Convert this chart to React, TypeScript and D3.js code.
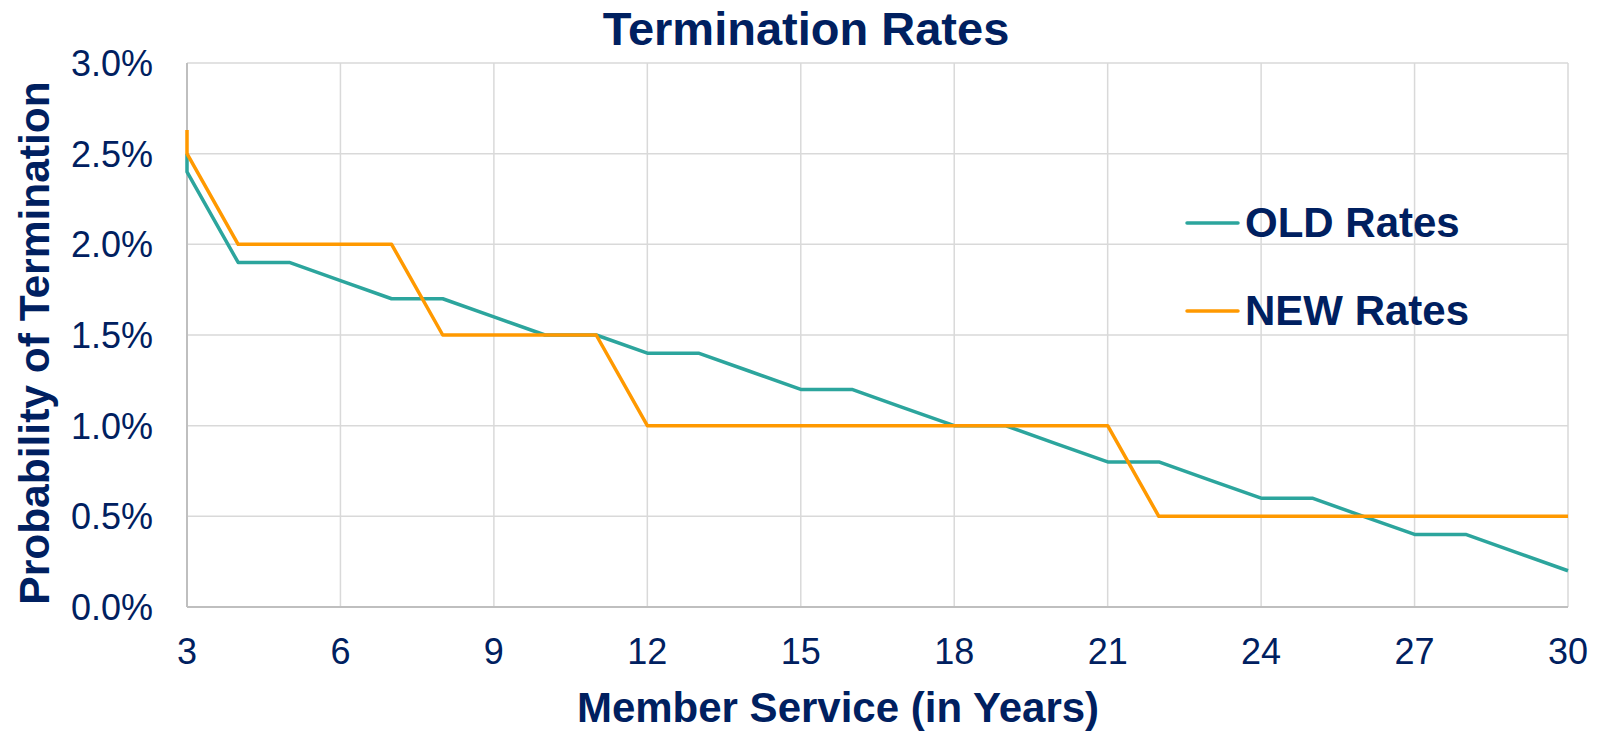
import React from "react";
import * as d3 from "d3";

const years = [3, 3, 4, 5, 6, 7, 8, 9, 10, 11, 12, 13, 14, 15, 16, 17, 18, 19, 20, 21, 22, 23, 24, 25, 26, 27, 28, 29, 30];
const oldRates = [2.5, 2.4, 1.9, 1.9, 1.8, 1.7, 1.7, 1.6, 1.5, 1.5, 1.4, 1.4, 1.3, 1.2, 1.2, 1.1, 1.0, 1.0, 0.9, 0.8, 0.8, 0.7, 0.6, 0.6, 0.5, 0.4, 0.4, 0.3, 0.2];
const newRates = [2.63, 2.5, 2.0, 2.0, 2.0, 2.0, 1.5, 1.5, 1.5, 1.5, 1.0, 1.0, 1.0, 1.0, 1.0, 1.0, 1.0, 1.0, 1.0, 1.0, 0.5, 0.5, 0.5, 0.5, 0.5, 0.5, 0.5, 0.5, 0.5];
const xTicks = [3, 6, 9, 12, 15, 18, 21, 24, 27, 30];
const yTicks = [0, 0.5, 1.0, 1.5, 2.0, 2.5, 3.0];
const seriesNames = ["OLD Rates", "NEW Rates"];

const W = 1597;
const H = 732;
const navy = "#002060";
const colors = ["#2CA59D", "#FF9900"];
const font = "Arial, 'Liberation Sans', sans-serif";

const App: React.FC = () => {
  const x = d3.scaleLinear().domain([3, 30]).range([187, 1568]);
  const y = d3.scaleLinear().domain([0, 3]).range([607, 63]);

  const line = d3
    .line<number>()
    .x((_, i) => x(years[i]))
    .y(d => y(d));

  const series = [oldRates, newRates];

  return (
    <svg width={W} height={H} style={{ position: "absolute", left: 0, top: 0, background: "#fff" }}>
      {/* gridlines */}
      {yTicks.slice(1).map(t => (
        <line key={"gy" + t} x1={x(3)} x2={x(30)} y1={y(t)} y2={y(t)} stroke="#D9D9D9" strokeWidth={1.5} />
      ))}
      {xTicks.slice(1).map(t => (
        <line key={"gx" + t} x1={x(t)} x2={x(t)} y1={y(0)} y2={y(3)} stroke="#D9D9D9" strokeWidth={1.5} />
      ))}
      {/* axis lines */}
      <line x1={x(3)} x2={x(3)} y1={y(0)} y2={y(3)} stroke="#BFBFBF" strokeWidth={2} />
      <line x1={x(3)} x2={x(30)} y1={y(0)} y2={y(0)} stroke="#BFBFBF" strokeWidth={2} />

      {/* tick labels */}
      {yTicks.map(t => (
        <text key={"ty" + t} x={153} y={y(t) + 13} textAnchor="end" fontFamily={font} fontSize={36} fill={navy}>
          {t.toFixed(1) + "%"}
        </text>
      ))}
      {xTicks.map(t => (
        <text key={"tx" + t} x={x(t)} y={664} textAnchor="middle" fontFamily={font} fontSize={36} fill={navy}>
          {t}
        </text>
      ))}

      {/* lines */}
      {series.map((s, i) => (
        <path key={"s" + i} d={line(s) || ""} fill="none" stroke={colors[i]} strokeWidth={3.5} strokeLinejoin="round" />
      ))}

      {/* legend */}
      {seriesNames.map((n, i) => (
        <g key={"lg" + i} transform={`translate(0, ${223 + i * 88})`}>
          <line x1={1187} x2={1238} y1={0} y2={0} stroke={colors[i]} strokeWidth={3.5} strokeLinecap="round" />
          <text x={1245} y={14} fontFamily={font} fontSize={42} fontWeight="bold" fill={navy}>
            {n}
          </text>
        </g>
      ))}

      {/* titles */}
      <text x={806} y={45} textAnchor="middle" fontFamily={font} fontSize={47} fontWeight="bold" fill={navy}>
        Termination Rates
      </text>
      <text x={838} y={722} textAnchor="middle" fontFamily={font} fontSize={42} fontWeight="bold" fill={navy}>
        Member Service (in Years)
      </text>
      <text
        transform="translate(49, 343) rotate(-90)"
        textAnchor="middle"
        fontFamily={font}
        fontSize={42.5}
        fontWeight="bold"
        fill={navy}
      >
        Probability of Termination
      </text>
    </svg>
  );
};

export default App;
